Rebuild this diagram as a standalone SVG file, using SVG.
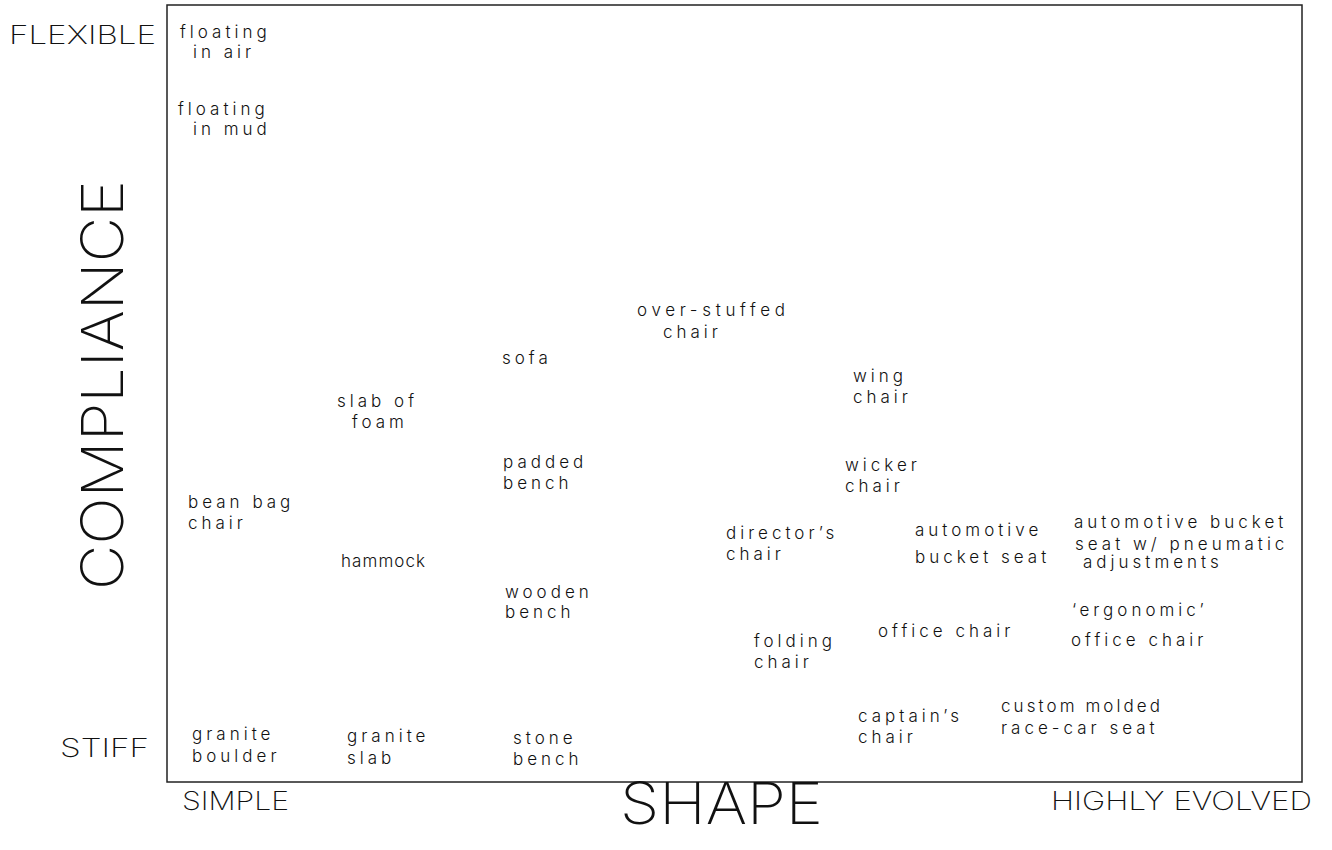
<svg xmlns="http://www.w3.org/2000/svg" width="1332" height="850" viewBox="0 0 1332 850">
<style>
.big{font-family:Inter,"Noto Sans","DejaVu Sans",sans-serif;font-weight:200;fill:#111;}
.axis{font-size:26px;}
.title{font-size:58px;}
.lbl{font-family:Inter,"Noto Sans","DejaVu Sans",sans-serif;font-weight:300;font-size:17px;letter-spacing:4px;fill:#111;}
.frame{fill:none;stroke:#222;stroke-width:1.5;}
</style>
<rect width="1332" height="850" fill="#fff"/>
<g id="frame"><rect class="frame" x="167" y="5" width="1135" height="777"/></g>
<g id="axes">
<text class="big axis" x="9" y="44" textLength="147" lengthAdjust="spacingAndGlyphs">FLEXIBLE</text>
<text class="big axis" x="60" y="757" textLength="89" lengthAdjust="spacingAndGlyphs">STIFF</text>
<text class="big axis" x="182" y="810" textLength="107" lengthAdjust="spacingAndGlyphs">SIMPLE</text>
<text class="big axis" x="1051" y="810" textLength="261" lengthAdjust="spacingAndGlyphs">HIGHLY EVOLVED</text>
<text class="big title" x="620" y="824" textLength="203" lengthAdjust="spacingAndGlyphs">SHAPE</text>
<text class="big title" transform="translate(123,590) rotate(-90)" x="0" y="0" textLength="410" lengthAdjust="spacingAndGlyphs">COMPLIANCE</text>
</g>
<g id="connectors"></g>
<g id="n-air"><text class="lbl" x="180" y="38">floating</text><text class="lbl" x="193" y="58">in air</text></g>
<g id="n-mud"><text class="lbl" x="178" y="115">floating</text><text class="lbl" x="193" y="135">in mud</text></g>
<g id="n-overstuffed"><text class="lbl" x="637" y="316" textLength="152" lengthAdjust="spacing">over-stuffed</text><text class="lbl" x="663" y="338">chair</text></g>
<g id="n-sofa"><text class="lbl" x="502" y="364">sofa</text></g>
<g id="n-wing"><text class="lbl" x="853" y="382">wing</text><text class="lbl" x="853" y="403">chair</text></g>
<g id="n-foam"><text class="lbl" x="337" y="407">slab of</text><text class="lbl" x="352" y="428">foam</text></g>
<g id="n-padded"><text class="lbl" x="503" y="468">padded</text><text class="lbl" x="503" y="489">bench</text></g>
<g id="n-wicker"><text class="lbl" x="845" y="471">wicker</text><text class="lbl" x="845" y="492">chair</text></g>
<g id="n-beanbag"><text class="lbl" x="188" y="508">bean bag</text><text class="lbl" x="188" y="529">chair</text></g>
<g id="n-autopneu"><text class="lbl" x="1074" y="528">automotive bucket</text><text class="lbl" x="1075" y="550">seat w/ pneumatic</text><text class="lbl" x="1083" y="568">adjustments</text></g>
<g id="n-director"><text class="lbl" x="726" y="539">director’s</text><text class="lbl" x="726" y="560">chair</text></g>
<g id="n-auto"><text class="lbl" x="915" y="536">automotive</text><text class="lbl" x="915" y="563">bucket seat</text></g>
<g id="n-hammock"><text class="lbl" x="341" y="567" textLength="88" lengthAdjust="spacing">hammock</text></g>
<g id="n-wooden"><text class="lbl" x="505" y="598">wooden</text><text class="lbl" x="505" y="618">bench</text></g>
<g id="n-ergo"><text class="lbl" x="1072" y="616">‘ergonomic’</text><text class="lbl" x="1071" y="646">office chair</text></g>
<g id="n-office"><text class="lbl" x="878" y="637">office chair</text></g>
<g id="n-folding"><text class="lbl" x="754" y="647">folding</text><text class="lbl" x="754" y="668">chair</text></g>
<g id="n-racecar"><text class="lbl" x="1001" y="712" textLength="163" lengthAdjust="spacing">custom molded</text><text class="lbl" x="1001" y="734">race-car seat</text></g>
<g id="n-captain"><text class="lbl" x="858" y="722">captain’s</text><text class="lbl" x="858" y="743">chair</text></g>
<g id="n-boulder"><text class="lbl" x="192" y="740">granite</text><text class="lbl" x="192" y="762">boulder</text></g>
<g id="n-slab"><text class="lbl" x="347" y="742">granite</text><text class="lbl" x="347" y="764">slab</text></g>
<g id="n-stone"><text class="lbl" x="513" y="744">stone</text><text class="lbl" x="513" y="765">bench</text></g>
</svg>
